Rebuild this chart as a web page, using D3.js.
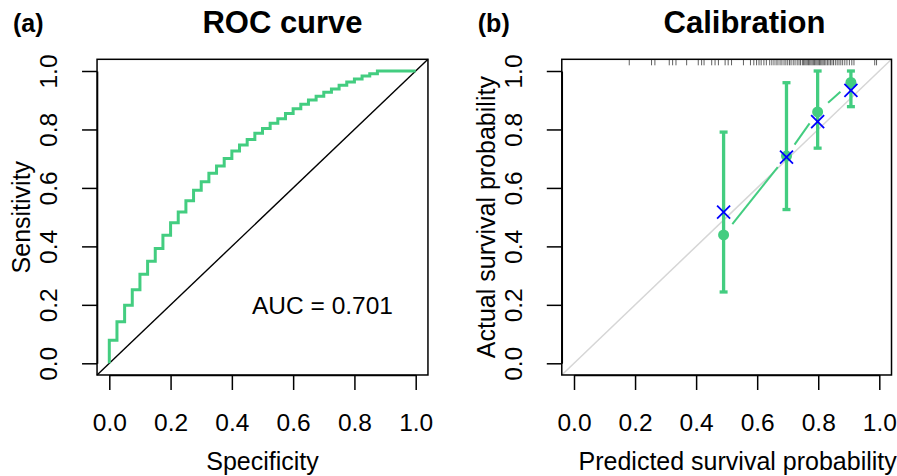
<!DOCTYPE html>
<html>
<head>
<meta charset="utf-8" />
<title>ROC and calibration</title>
<script src="https://cdnjs.cloudflare.com/ajax/libs/d3/7.8.5/d3.min.js"></script>
<style>
  body { margin: 0; padding: 0; background: #fff; }
  svg { display: block; font-family: "Liberation Sans", Arial, Helvetica, sans-serif; }
</style>
</head>
<body>
<div id="chart"></div>
<script>
// ROC curve (step points, fpr / tpr)
var rocFpr = [0, 0, 0.025, 0.05, 0.075, 0.1, 0.125, 0.15, 0.175, 0.2, 0.225, 0.25, 0.275, 0.3, 0.325, 0.35, 0.375, 0.4, 0.425, 0.45, 0.475, 0.5, 0.525, 0.55, 0.575, 0.6, 0.625, 0.65, 0.675, 0.7, 0.725, 0.75, 0.775, 0.8, 0.825, 0.85, 0.875, 1.0];
var rocTpr = [0, 0.079, 0.142, 0.199, 0.252, 0.305, 0.349, 0.393, 0.438, 0.481, 0.518, 0.556, 0.592, 0.621, 0.650, 0.675, 0.701, 0.726, 0.747, 0.766, 0.787, 0.803, 0.821, 0.837, 0.855, 0.871, 0.886, 0.901, 0.914, 0.927, 0.938, 0.951, 0.962, 0.973, 0.983, 0.991, 1.0, 1.0];
var aucLabel = "AUC = 0.701";

// calibration groups
var calPred = [0.490, 0.696, 0.798, 0.907];
var calObs = [0.439, 0.709, 0.860, 0.961];
var calLo = [0.244, 0.526, 0.736, 0.878];
var calHi = [0.791, 0.960, 1.0, 1.0];
var calCorr = [0.517, 0.705, 0.827, 0.934];

// rug of predicted values along the top
var rugPred = [0.181, 0.254, 0.265, 0.312, 0.323, 0.334, 0.369, 0.407, 0.418, 0.426, 0.451, 0.462, 0.473, 0.495, 0.505, 0.516, 0.555, 0.578, 0.589, 0.598, 0.606, 0.613, 0.622, 0.630, 0.641, 0.648, 0.655, 0.662, 0.668, 0.675, 0.681, 0.688, 0.694, 0.700, 0.706, 0.711, 0.718, 0.724, 0.731, 0.737, 0.742, 0.748, 0.752, 0.756, 0.760, 0.764, 0.768, 0.772, 0.776, 0.780, 0.784, 0.788, 0.792, 0.796, 0.800, 0.804, 0.808, 0.812, 0.816, 0.820, 0.825, 0.830, 0.835, 0.840, 0.845, 0.850, 0.856, 0.862, 0.868, 0.874, 0.880, 0.887, 0.894, 0.902, 0.910, 0.917, 0.985, 0.991];

var ticks = [0, 0.2, 0.4, 0.6, 0.8, 1.0];

var green = "#43CD80";
var W = 897, H = 476;

var svg = d3.select("#chart").append("svg").attr("width", W).attr("height", H);
svg.append("rect").attr("width", W).attr("height", H).attr("fill", "#fff");

var y = d3.scaleLinear().domain([0, 1]).range([363.3, 71]);
var xA = d3.scaleLinear().domain([0, 1]).range([109.3, 415.7]);
var xB = d3.scaleLinear().domain([0, 1]).range([574, 879.3]);

function panel(x, opt) {
  var g = svg.append("g");
  var left = x(-0.04), right = x(1.04), top = y(1.04), bottom = y(-0.04);

  var ax = g.append("g").attr("transform", "translate(0," + bottom + ")")
    .call(d3.axisBottom(x).tickValues(ticks).tickFormat(d3.format(".1f")).tickSize(15).tickSizeOuter(0));
  ax.selectAll("text").attr("y", 56).attr("dy", 0).style("font-size", "24.5px").attr("fill", "#000");

  var ay = g.append("g").attr("transform", "translate(" + left + ",0)")
    .call(d3.axisLeft(y).tickValues(ticks).tickFormat(d3.format(".1f")).tickSize(15).tickSizeOuter(0));
  ay.selectAll("text").attr("x", null).attr("dy", 0).attr("text-anchor", "middle")
    .attr("transform", "translate(-40,0) rotate(-90)").style("font-size", "24.5px").attr("fill", "#000");

  g.selectAll(".domain, .tick line").attr("stroke", "#000").attr("stroke-width", 1.5);

  g.append("text").attr("x", (x(0) + x(1)) / 2 + opt.xlabShift).attr("y", 470).attr("text-anchor", "middle")
    .style("font-size", "25px").text(opt.xlab);
  g.append("text").attr("transform", "translate(" + (left - 67) + "," + ((top + bottom) / 2) + ") rotate(-90)")
    .attr("text-anchor", "middle").style("font-size", "25px").text(opt.ylab);
  g.append("text").attr("x", opt.titleX).attr("y", 33).attr("text-anchor", "middle")
    .style("font-size", "31px").style("font-weight", "bold").text(opt.title);
  g.append("text").attr("x", left - 84).attr("y", 32).style("font-size", "25px").style("font-weight", "bold").text(opt.tag);

  var plot = g.append("g");
  g.append("rect").attr("x", left).attr("y", top).attr("width", right - left).attr("height", bottom - top)
    .attr("fill", "none").attr("stroke", "#000").attr("stroke-width", 1.5);
  return plot;
}

// (a) ROC
var pa = panel(xA, { xlab: "Specificity", ylab: "Sensitivity", title: "ROC curve", titleX: 282.5, tag: "(a)", xlabShift: 0 });

pa.append("line").attr("x1", xA(-0.04)).attr("y1", y(-0.04)).attr("x2", xA(1.04)).attr("y2", y(1.04))
  .attr("stroke", "#000").attr("stroke-width", 1.4);

var roc = rocFpr.map(function(d, i) { return [d, rocTpr[i]]; });
pa.append("path").datum(roc)
  .attr("d", d3.line().x(function(d) { return xA(d[0]); }).y(function(d) { return y(d[1]); }).curve(d3.curveStepAfter))
  .attr("fill", "none").attr("stroke", green).attr("stroke-width", 3);

pa.append("text").attr("x", 322.5).attr("y", 314).attr("text-anchor", "middle").style("font-size", "24.5px").text(aucLabel);

// (b) calibration
var pb = panel(xB, { xlab: "Predicted survival probability", ylab: "Actual survival probability", title: "Calibration", titleX: 744.5, tag: "(b)", xlabShift: 11 });

pb.append("line").attr("x1", xB(-0.04)).attr("y1", y(-0.04)).attr("x2", xB(1.04)).attr("y2", y(1.04))
  .attr("stroke", "#d6d6d6").attr("stroke-width", 1.5);

pb.selectAll(".rug").data(rugPred).enter().append("line")
  .attr("x1", function(d) { return xB(d); }).attr("x2", function(d) { return xB(d); })
  .attr("y1", y(1.04)).attr("y2", y(1.04) + 6)
  .attr("stroke", "#222").attr("stroke-width", 0.9).attr("stroke-opacity", 0.8);

// error bars with caps
calPred.forEach(function(p, i) {
  var cx = xB(p);
  pb.append("line").attr("x1", cx).attr("x2", cx).attr("y1", y(calLo[i])).attr("y2", y(calHi[i]))
    .attr("stroke", green).attr("stroke-width", 3.3);
  [calLo[i], calHi[i]].forEach(function(v) {
    pb.append("line").attr("x1", cx - 4).attr("x2", cx + 4).attr("y1", y(v)).attr("y2", y(v))
      .attr("stroke", green).attr("stroke-width", 3.3);
  });
});

// type = "b" style line: segments with a gap round each point
var gap = 14;
for (var i = 0; i < calPred.length - 1; i++) {
  var x1 = xB(calPred[i]), y1 = y(calObs[i]), x2 = xB(calPred[i + 1]), y2 = y(calObs[i + 1]);
  var len = Math.sqrt((x2 - x1) * (x2 - x1) + (y2 - y1) * (y2 - y1));
  if (len <= 2 * gap) continue;
  var ux = (x2 - x1) / len, uy = (y2 - y1) / len;
  pb.append("line").attr("x1", x1 + ux * gap).attr("y1", y1 + uy * gap).attr("x2", x2 - ux * gap).attr("y2", y2 - uy * gap)
    .attr("stroke", green).attr("stroke-width", 2);
}

pb.selectAll(".dot").data(calPred).enter().append("circle")
  .attr("cx", function(d) { return xB(d); }).attr("cy", function(d, i) { return y(calObs[i]); })
  .attr("r", 5.5).attr("fill", green);

var s = 6.5;
calPred.forEach(function(p, i) {
  var cx = xB(p), cy = y(calCorr[i]);
  pb.append("path").attr("d", "M" + (cx - s) + "," + (cy - s) + "L" + (cx + s) + "," + (cy + s) + "M" + (cx - s) + "," + (cy + s) + "L" + (cx + s) + "," + (cy - s))
    .attr("stroke", "#0000ff").attr("stroke-width", 1.8).attr("fill", "none");
});
</script>
</body>
</html>
